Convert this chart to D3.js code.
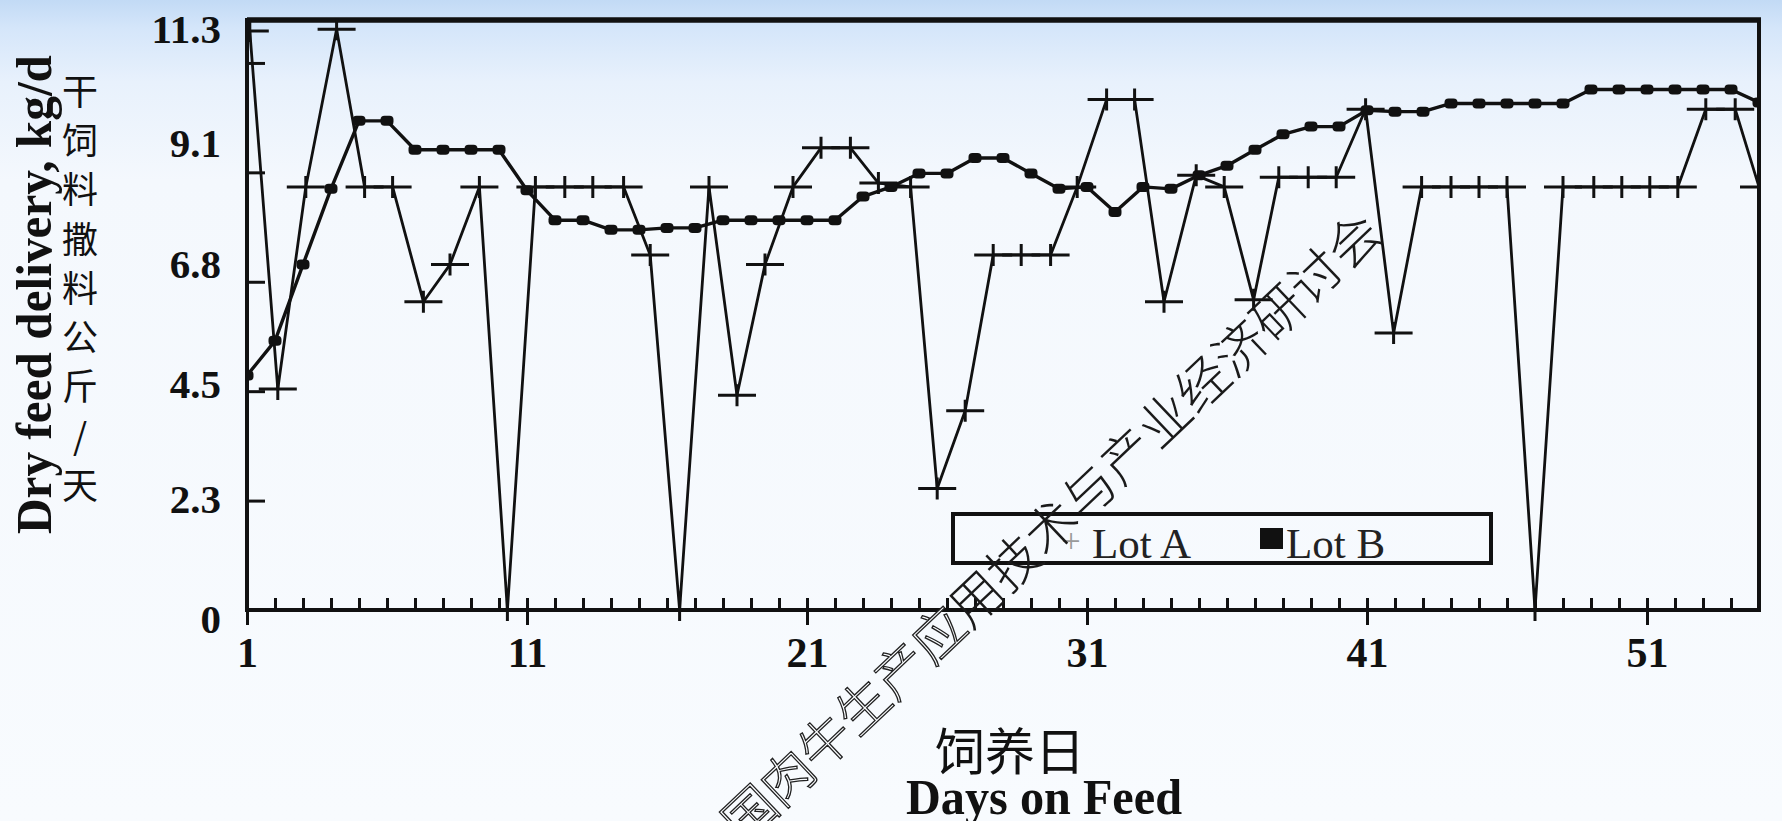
<!DOCTYPE html>
<html><head><meta charset="utf-8">
<script src="https://cdn.jsdelivr.net/npm/d3@7/dist/d3.min.js"></script>
<style>
html,body{margin:0;padding:0;overflow:hidden;background:#f8fbfe;}
svg{display:block;}
</style>
</head><body>
<svg id="chart" width="1782" height="821"></svg>
<script>
// ---------------- data ----------------
const lotBDays = d3.range(1, 56); // feed days 1..55
const lotBValues = [4.86, 5.58, 7.16, 8.73, 10.14, 10.14, 9.54, 9.54, 9.54, 9.54,
  8.70, 8.08, 8.08, 7.88, 7.88, 7.92, 7.92, 8.08, 8.08, 8.08,
  8.08, 8.08, 8.57, 8.77, 9.05, 9.05, 9.37, 9.37, 9.05, 8.73,
  8.77, 8.25, 8.77, 8.73, 9.01, 9.21, 9.54, 9.86, 10.02, 10.02,
  10.36, 10.33, 10.33, 10.5, 10.5, 10.5, 10.5, 10.5, 10.79, 10.79,
  10.79, 10.79, 10.79, 10.79, 10.52];
// Lot A markers sit at slightly different horizontal positions in the source figure
const lotADays = [1.1, 2.1, 3.1, 4.2, 5.2, 6.2, 7.3, 8.25, 9.3, 10.3,
  11.3, 12.35, 13.35, 14.45, 15.4, 16.45, 17.5, 18.5, 19.5, 20.5,
  21.5, 22.55, 23.55, 24.7, 25.65, 26.65, 27.65, 28.65, 29.7, 30.65,
  31.7, 32.7, 33.75, 34.9, 35.9, 36.95, 37.85, 38.9, 39.9, 40.95,
  41.95, 42.95, 44.0, 45.0, 46.0, 47.0, 48.0, 49.1, 50.1, 51.1,
  52.1, 53.1, 54.15, 55.0];
const lotAValues = [12.0, 4.58, 8.77, 12.04, 8.77, 8.77, 6.39, 7.16, 8.77, 0,
  8.77, 8.77, 8.77, 8.77, 7.36, 0, 8.77, 4.45, 7.16, 8.77,
  9.58, 9.58, 8.85, 8.77, 2.52, 4.13, 7.36, 7.36, 7.36, 8.77,
  10.58, 10.58, 6.39, 9.01, 8.77, 6.43, 8.97, 8.97, 8.97, 10.38,
  5.74, 8.77, 8.77, 8.77, 8.77, 0, 8.77, 8.77, 8.77, 8.77,
  8.77, 10.38, 10.38, 8.77];
const seriesNames = ["Lot A", "Lot B"];
const xTickValues = [1, 11, 21, 31, 41, 51];
const yTickValues = [0, 2.268, 4.536, 6.804, 9.072, 11.34];   // 0,5,10,15,20,25 lb in kg
const yTickLabels = ["0", "2.3", "4.5", "6.8", "9.1", "11.3"];
const yTitleEn = "Dry feed delivery, kg/d";
const yTitleZh = "干饲料撒料公斤/天";
const xTitleZh = "饲养日";
const xTitleEn = "Days on Feed";
const watermark = "中国肉牛生产应用技术与产业经济研讨会";

// ---------------- layout ----------------
const W = 1782, H = 821;
const pL = 247, pR = 1759, pT = 20, pB = 610;
const svg = d3.select("#chart");

const defs = svg.append("defs");
const bg = defs.append("linearGradient").attr("id", "bg").attr("x1", 0).attr("x2", 0).attr("y1", 0).attr("y2", 1);
[[0, "#c2daf5"], [0.035, "#d5e6fa"], [0.1, "#e8f1fc"], [0.22, "#f4f8fd"], [1, "#f8fbfe"]]
  .forEach(([o, c]) => bg.append("stop").attr("offset", o).attr("stop-color", c));
svg.append("rect").attr("width", W).attr("height", H).attr("fill", "url(#bg)");

defs.append("clipPath").attr("id", "plotClip").append("rect")
  .attr("x", pL).attr("y", 0).attr("width", pR - pL).attr("height", 640);

const x = d3.scaleLinear().domain([1, 55]).range([pL, pR]);
const y = d3.scaleLinear().domain([0, 12.23]).range([pB, pT]);
const yLabel = d3.scaleLinear().domain([0, 11.3]).range([619, 29]);

const serif = "'Liberation Serif','Times New Roman',serif";
const cjk = "'Noto Sans CJK SC','Noto Sans CJK TC',sans-serif";

// x axis: inward minor ticks every day
svg.append("g").attr("transform", `translate(0,${pB})`)
  .call(d3.axisTop(x).tickValues(lotBDays).tickSize(12).tickFormat(""))
  .call(g => g.select(".domain").remove())
  .call(g => g.selectAll("line").attr("stroke", "#111").attr("stroke-width", 3));
// x axis: major ticks with labels
svg.append("g").attr("transform", `translate(0,${pB})`)
  .call(d3.axisBottom(x).tickValues(xTickValues).tickSize(15).tickPadding(34).tickFormat(d => d))
  .call(g => g.select(".domain").remove())
  .call(g => g.selectAll("line").attr("stroke", "#111").attr("stroke-width", 3))
  .call(g => g.selectAll("text").attr("fill", "#111").attr("font-family", serif)
    .attr("font-weight", "bold").attr("font-size", 42).attr("dy", "0.2em"));

// y axis: inward ticks
svg.append("g").attr("transform", `translate(${pL},0)`)
  .call(d3.axisRight(y).tickValues(yTickValues).tickSize(18).tickFormat(""))
  .call(g => g.select(".domain").remove())
  .call(g => g.selectAll("line").attr("stroke", "#111").attr("stroke-width", 3));
// y axis labels
svg.append("g").attr("transform", `translate(${pL},0)`)
  .call(d3.axisLeft(yLabel).tickValues(yTickLabels.map(Number)).tickSize(0).tickPadding(26)
    .tickFormat((d, i) => yTickLabels[i]))
  .call(g => g.select(".domain").remove())
  .call(g => g.selectAll("text").attr("fill", "#111").attr("font-family", serif)
    .attr("font-weight", "bold").attr("font-size", 41));

// frame
svg.append("rect").attr("x", pL).attr("y", pT).attr("width", pR - pL).attr("height", pB - pT)
  .attr("fill", "none").attr("stroke", "#111").attr("stroke-width", 4);
svg.append("line").attr("x1", pL).attr("x2", pR + 2).attr("y1", pT).attr("y2", pT)
  .attr("stroke", "#111").attr("stroke-width", 5.5);

// series
const dataA = lotADays.map((d, i) => ({day: d, v: lotAValues[i]}));
const dataB = lotBDays.map((d, i) => ({day: d, v: lotBValues[i]}));
const line = d3.line().x(d => x(d.day)).y(d => y(d.v));

const plot = svg.append("g").attr("clip-path", "url(#plotClip)");
plot.append("path").datum(dataA).attr("d", line).attr("fill", "none")
  .attr("stroke", "#111").attr("stroke-width", 2.8).attr("stroke-linejoin", "round");
plot.append("path").datum(dataB).attr("d", line).attr("fill", "none")
  .attr("stroke", "#111").attr("stroke-width", 3.4).attr("stroke-linejoin", "round");

plot.selectAll("path.markA").data(dataA).join("path").attr("class", "markA")
  .attr("transform", d => `translate(${x(d.day)},${y(d.v)})`)
  .attr("d", "M-19,0H19M0,-11V11").attr("stroke", "#111").attr("stroke-width", 3).attr("fill", "none");
plot.selectAll("rect.markB").data(dataB).join("rect").attr("class", "markB")
  .attr("x", d => x(d.day) - 6.5).attr("y", d => y(d.v) - 5).attr("width", 13).attr("height", 10)
  .attr("rx", 4).attr("fill", "#111");

// legend
const lg = svg.append("g");
lg.append("rect").attr("x", 953).attr("y", 514).attr("width", 538).attr("height", 49)
  .attr("fill", "none").attr("stroke", "#111").attr("stroke-width", 4);
lg.append("text").attr("x", 1071).attr("y", 552).attr("text-anchor", "middle")
  .attr("font-family", serif).attr("font-size", 34).attr("fill", "#9a9a9a").text("+");
lg.append("text").attr("x", 1092).attr("y", 558).attr("font-family", serif).attr("font-size", 43)
  .attr("fill", "#222").text(seriesNames[0]);
lg.append("rect").attr("x", 1260).attr("y", 528).attr("width", 23).attr("height", 21).attr("fill", "#111");
lg.append("text").attr("x", 1286).attr("y", 558).attr("font-family", serif).attr("font-size", 43)
  .attr("fill", "#222").text(seriesNames[1]);

// axis titles
svg.append("text").attr("transform", "translate(51,294.5) rotate(-90)").attr("text-anchor", "middle")
  .attr("font-family", serif).attr("font-weight", "bold").attr("font-size", 50).attr("fill", "#111")
  .attr("textLength", 479).attr("lengthAdjust", "spacingAndGlyphs").text(yTitleEn);
svg.append("g").selectAll("text").data(Array.from(yTitleZh)).join("text")
  .attr("x", 80).attr("y", (d, i) => 92 + i * 49.3).attr("dy", "0.35em").attr("text-anchor", "middle")
  .attr("font-family", cjk).attr("font-size", 36).attr("fill", "#111").text(d => d);
svg.append("text").attr("x", 1010).attr("y", 752).attr("dy", "0.36em").attr("text-anchor", "middle")
  .attr("font-family", cjk).attr("font-size", 50).attr("fill", "#111").text(xTitleZh);
svg.append("text").attr("x", 1044).attr("y", 814).attr("text-anchor", "middle")
  .attr("font-family", serif).attr("font-weight", "bold").attr("font-size", 50).attr("fill", "#111")
  .attr("textLength", 276).attr("lengthAdjust", "spacingAndGlyphs").text(xTitleEn);

// watermark
const wm = svg.append("text").attr("transform", "translate(1030,542) rotate(-43.5)")
  .attr("text-anchor", "middle").attr("dominant-baseline", "central")
  .attr("font-family", cjk).attr("font-size", 52).attr("font-weight", 300);
const chars = Array.from(watermark);
wm.append("tspan").text(chars.slice(0, 7).join(""))
  .attr("fill", "#fbfdff").attr("stroke", "#222").attr("stroke-width", 1.3);
wm.append("tspan").text(chars.slice(7).join("")).attr("fill", "#1a1a1a");
</script>
</body></html>
